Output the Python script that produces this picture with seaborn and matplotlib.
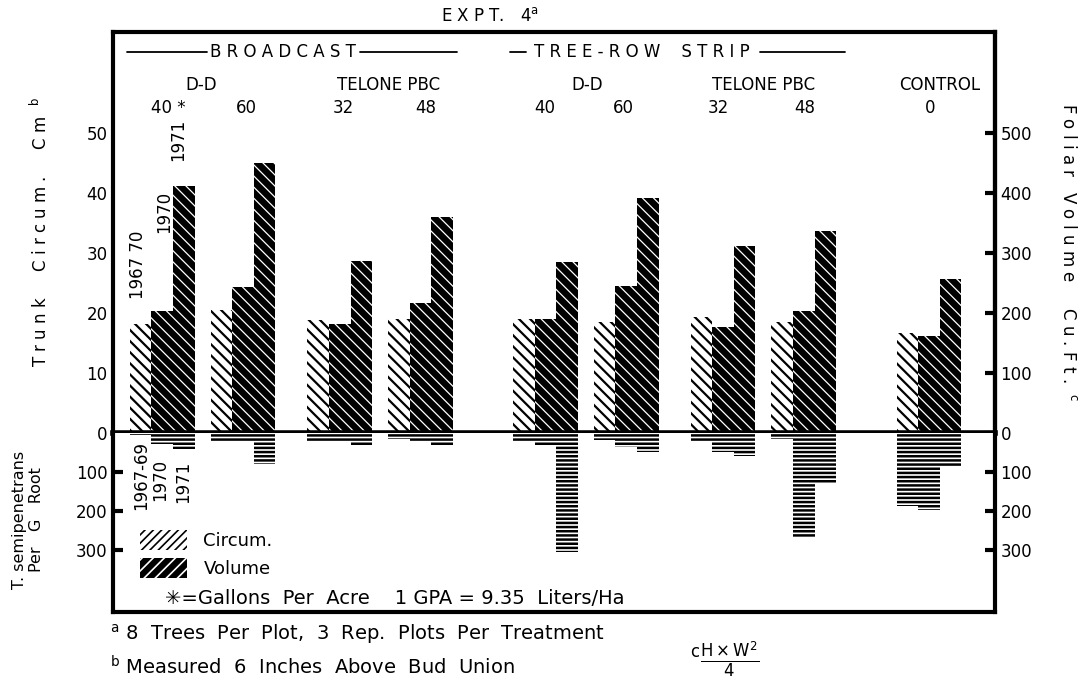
import numpy as np
import pandas as pd
import seaborn as sns
import matplotlib.pyplot as plt
from matplotlib.lines import Line2D
from matplotlib.patches import Patch

# treatments, left to right
treatments = ["BC D-D 40", "BC D-D 60", "BC Telone 32", "BC Telone 48",
              "TR D-D 40", "TR D-D 60", "TR Telone 32", "TR Telone 48", "Control 0"]
# trunk circumference (cm) and foliar volume (cu ft)
circum = [18.2, 20.5, 18.8, 19.0, 19.0, 18.5, 19.3, 18.5, 16.7]
vol_1970 = [204, 244, 182, 216, 190, 245, 177, 203, 162]
vol_1971 = [412, 450, 287, 360, 285, 392, 312, 337, 257]
# T. semipenetrans per g root
nema_6769 = [5, 20, 22, 15, 22, 18, 20, 15, 187]
nema_1970 = [27, 20, 20, 20, 33, 35, 48, 267, 197]
nema_1971 = [40, 80, 33, 32, 305, 49, 59, 131, 86]

sns.set_style("white")
plt.rcParams["font.family"] = ["DejaVu Sans"]
plt.rcParams["hatch.linewidth"] = 1.2
for k in ["text.color", "axes.labelcolor", "xtick.color", "ytick.color"]:
    plt.rcParams[k] = "black"

# layout: gaps between treatment groups (in group units)
gaps = [1, 1.2, 1, 1.55, 1, 1.2, 1, 1.55]
xpos = np.concatenate([[0], np.cumsum(gaps)])

top = pd.DataFrame({
    "x": np.tile(xpos, 3),
    "series": ["circ"] * 9 + ["v70"] * 9 + ["v71"] * 9,
    "val": circum + [v / 10 for v in vol_1970] + [v / 10 for v in vol_1971],
})
bot = pd.DataFrame({
    "x": np.tile(xpos, 3),
    "series": ["n69"] * 9 + ["n70"] * 9 + ["n71"] * 9,
    "val": nema_6769 + nema_1970 + nema_1971,
})

W, H = 1091, 682
fig = plt.figure(figsize=(W / 100, H / 100), dpi=100)


def px(x, y):
    return x / W, 1 - y / H


def hatch_lw(p, lw):
    # per-patch hatch width where matplotlib supports it
    if hasattr(p, "set_hatch_linewidth"):
        p.set_hatch_linewidth(lw)


L, R, T, Z, B = 113, 995, 32, 433, 612
ax = fig.add_axes([L / W, 1 - Z / H, (R - L) / W, (Z - T) / H])
axb = fig.add_axes([L / W, 1 - B / H, (R - L) / W, (B - Z) / H], sharex=ax)

sns.barplot(data=top, x="x", y="val", hue="series", native_scale=True,
            errorbar=None, width=0.8, ax=ax, legend=False)
sns.barplot(data=bot, x="x", y="val", hue="series", native_scale=True,
            errorbar=None, width=0.8, ax=axb, legend=False)

styles = [("white", "black", "\\\\\\", 1.6), ("black", "white", "\\\\\\", 0.9),
          ("black", "white", "\\\\\\", 0.9)]
for cont, (fc, ec, h, hw) in zip(ax.containers, styles):
    for p in cont:
        p.set_facecolor(fc)
        p.set_edgecolor(ec)
        p.set_hatch(h)
        p.set_linewidth(0)
        hatch_lw(p, hw)
for cont in axb.containers:
    for p in cont:
        p.set_facecolor("white")
        p.set_edgecolor("black")
        p.set_hatch("----")
        p.set_linewidth(0)
        hatch_lw(p, 1.8)

xl = (-0.61, xpos[-1] + 0.82)
ax.set_xlim(*xl)
ax.set_ylim(0, (Z - T) / 6.0)
axb.set_ylim((B - Z) / 0.39, 0)

for a in (ax, axb):
    a.set_xlabel("")
    a.set_ylabel("")
    for s in a.spines.values():
        s.set_linewidth(3)
        s.set_color("black")
    a.tick_params(axis="x", bottom=False, labelbottom=False, top=False)
ax.spines["bottom"].set_linewidth(4)
axb.spines["top"].set_visible(False)

ax.set_yticks([0, 10, 20, 30, 40, 50])
ax.tick_params(axis="y", direction="in", length=7, width=3, labelsize=12, pad=4)
sec = ax.secondary_yaxis("right", functions=(lambda v: v * 10, lambda v: v / 10))
sec.set_yticks([0, 100, 200, 300, 400, 500])
sec.tick_params(direction="in", length=7, width=3, labelsize=12, pad=4)
sec.spines["right"].set_linewidth(3)

axb.set_yticks([100, 200, 300])
axb.tick_params(axis="y", direction="in", length=7, width=3, labelsize=12, pad=4,
                left=True, right=True, labelleft=True, labelright=True)

# legend
hl = [Patch(facecolor="white", edgecolor="black", hatch="////", linewidth=0),
      Patch(facecolor="black", edgecolor="white", hatch="///", linewidth=0)]
fig.legend(hl, ["Circum.", "Volume"], loc="upper left", bbox_to_anchor=px(124, 514),
           frameon=False, fontsize=13, handlelength=2.6, handleheight=1.3,
           labelspacing=0.45, handletextpad=0.9)

# header text inside frame
fs = 12
fig.text(*px(283, 52), "B R O A D C A S T", fontsize=fs, ha="center", va="center")
fig.text(*px(642, 52), "T R E E - R O W    S T R I P", fontsize=fs, ha="center", va="center")
for x1, x2 in [(127, 207), (360, 457), (510, 526), (760, 845)]:
    fig.add_artist(Line2D([x1 / W, x2 / W], [1 - 52 / H] * 2, color="black", lw=1.3,
                          transform=fig.transFigure))
for x, s in [(201, "D-D"), (389, "TELONE PBC"), (587, "D-D"), (764, "TELONE PBC"),
             (940, "CONTROL")]:
    fig.text(*px(x, 85), s, fontsize=fs, ha="center", va="center")
for x, s in [(168, "40 *"), (246, "60"), (343, "32"), (426, "48"), (545, "40"),
             (623, "60"), (718, "32"), (805, "48"), (930, "0")]:
    fig.text(*px(x, 108), s, fontsize=fs, ha="center", va="center")

# year labels
for x, y, s in [(138, 265, "1967 70"), (164, 212, "1970"), (178, 140, "1971")]:
    fig.text(*px(x, y), s, fontsize=12, rotation=90, ha="center", va="center")
for x, y, s in [(141, 475, "1967-69"), (160, 480, "1970"), (183, 482, "1971")]:
    fig.text(*px(x, y), s, fontsize=12, rotation=90, ha="center", va="center")

fig.text(*px(165, 598), "✳=Gallons  Per  Acre    1 GPA = 9.35  Liters/Ha", fontsize=14,
         ha="left", va="center")

# title and axis labels
fig.text(*px(490, 16), r"E X P T.   4$^{\mathrm{a}}$", fontsize=12, ha="center", va="center")
fig.text(*px(40, 232), r"T r u n k     C i r c u m .     C m  $^{\mathrm{b}}$", fontsize=12,
         rotation=90, ha="center", va="center")
fig.text(*px(28, 520), "T. semipenetrans\nPer   G   Root", fontsize=11.5,
         rotation=90, ha="center", va="center", linespacing=1.1)
fig.text(*px(1068, 252), r"F o l i a r   V o l u m e     C u . F t .  $^{\mathrm{c}}$",
         fontsize=12, rotation=-90, ha="center", va="center")

# footnotes
fig.text(*px(110, 634), r"$^{\mathrm{a}}$ 8  Trees  Per  Plot,  3  Rep.  Plots  Per  Treatment",
         fontsize=14, ha="left", va="center")
fig.text(*px(110, 667), r"$^{\mathrm{b}}$ Measured  6  Inches  Above  Bud  Union",
         fontsize=14, ha="left", va="center")
fig.text(*px(725, 660), r"$^{\mathrm{c}}\frac{\mathrm{H \times W}^{2}}{4}$", fontsize=17,
         ha="center", va="center")

fig.savefig("out.png", dpi=100)
